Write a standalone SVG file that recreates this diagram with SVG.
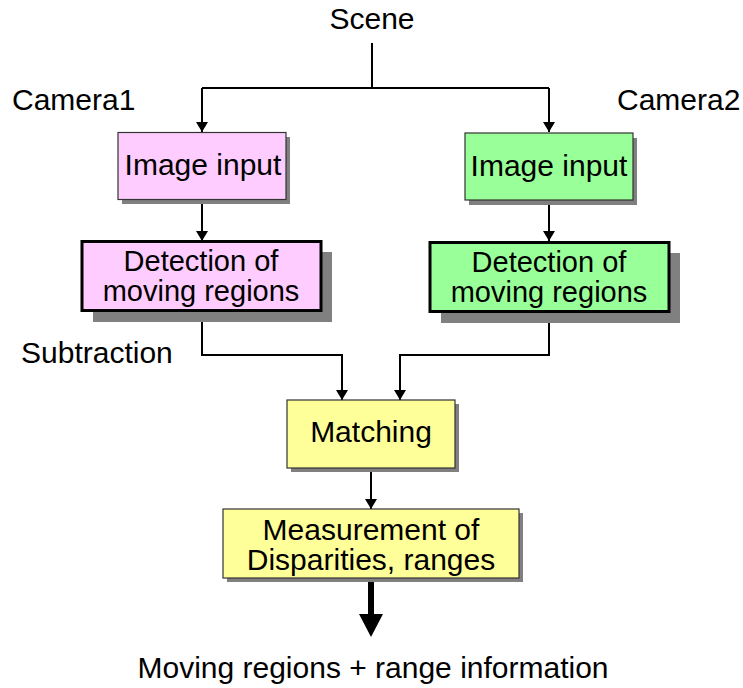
<svg xmlns="http://www.w3.org/2000/svg" width="743" height="688" viewBox="0 0 743 688">
<style>
text{font-family:"Liberation Sans",Arial,sans-serif;font-size:30px;fill:#000}
.c{text-anchor:middle}
.s29{font-size:29px}
.sh{fill:#808080}
.thin{stroke:#333;stroke-width:1.2}
.thick{stroke:#000;stroke-width:3}
.pink{fill:#ffccff}
.green{fill:#99ff99}
.yellow{fill:#ffff99}
.ln{fill:none;stroke:#000;stroke-width:2}
</style>
<defs>
<marker id="ah" viewBox="0 0 10 12" refX="10" refY="6" markerWidth="10" markerHeight="12" markerUnits="userSpaceOnUse" orient="auto">
<path d="M0,0 L10,6 L0,12 Z" fill="#000"/>
</marker>
</defs>
<g id="labels">
<text class="c" x="372" y="29">Scene</text>
<text x="12" y="110">Camera1</text>
<text x="617" y="110">Camera2</text>
<text x="21" y="363">Subtraction</text>
<text class="c" x="373" y="678">Moving regions + range information</text>
</g>
<g id="connectors">
<path class="ln" d="M372,43 V88"/>
<path class="ln" d="M202,88 H549"/>
<path class="ln" d="M202,88 V132" marker-end="url(#ah)"/>
<path class="ln" d="M549,88 V132" marker-end="url(#ah)"/>
<path class="ln" d="M202,200 V241" marker-end="url(#ah)"/>
<path class="ln" d="M549,201 V241" marker-end="url(#ah)"/>
<path class="ln" d="M202,311 V355 H342 V400" marker-end="url(#ah)"/>
<path class="ln" d="M549,312 V355 H400 V400" marker-end="url(#ah)"/>
<path class="ln" d="M371,468 V509" marker-end="url(#ah)"/>
<path d="M368,578 H374 V614 H383 L371,637 L359,614 H368 Z" fill="#000"/>
</g>
<g id="img1">
<rect class="sh" x="122" y="137" width="168" height="67"/>
<rect class="pink thin" x="118" y="132.5" width="168" height="67"/>
<text class="c" x="203" y="175">Image input</text>
</g>
<g id="img2">
<rect class="sh" x="469" y="138" width="168" height="67"/>
<rect class="green thin" x="465" y="133" width="168" height="67"/>
<text class="c" x="549" y="176">Image input</text>
</g>
<g id="det1">
<rect class="sh" x="93" y="252" width="239" height="70"/>
<rect class="pink thick" x="82" y="241.5" width="239" height="69"/>
<text class="c s29" x="201" y="271">Detection of</text>
<text class="c s29" x="201" y="301">moving regions</text>
</g>
<g id="det2">
<rect class="sh" x="441" y="253" width="239" height="70"/>
<rect class="green thick" x="430" y="242.5" width="239" height="69"/>
<text class="c s29" x="549" y="272">Detection of</text>
<text class="c s29" x="549" y="302">moving regions</text>
</g>
<g id="matching">
<rect class="sh" x="291" y="404" width="168" height="68"/>
<rect class="yellow thin" x="287" y="400" width="168" height="68"/>
<text class="c" x="371" y="442">Matching</text>
</g>
<g id="measure">
<rect class="sh" x="227" y="513" width="296" height="69"/>
<rect class="yellow thin" x="223" y="509" width="296" height="69"/>
<text class="c" x="371" y="540">Measurement of</text>
<text class="c" x="371" y="570">Disparities, ranges</text>
</g>
</svg>
